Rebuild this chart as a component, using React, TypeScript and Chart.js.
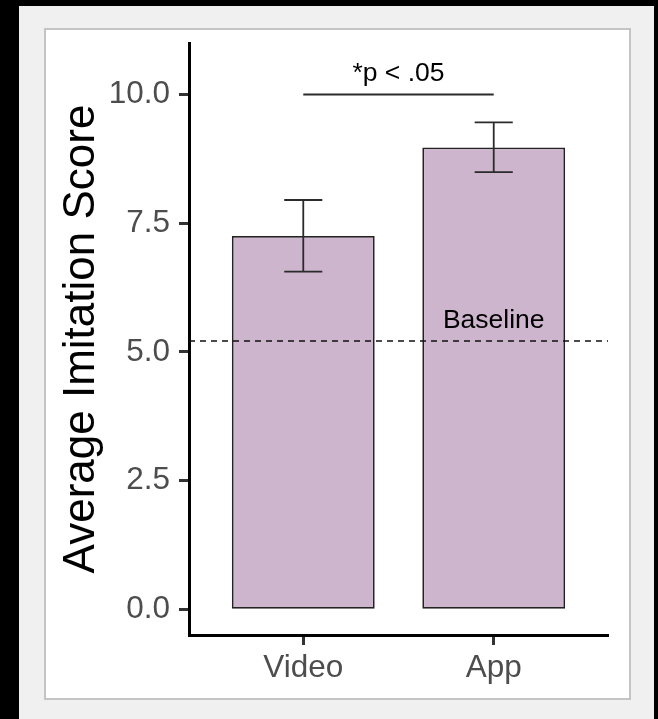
import React, { useEffect, useRef } from "react";
import { Chart, registerables } from "chart.js";

Chart.register(...registerables);

const categories = ["Video", "App"];
const categoryPositions = [1, 2];
const means = [7.25, 8.97];
const errLow = [6.56, 8.49];
const errHigh = [7.95, 9.46];
const yTickValues = [0, 2.5, 5, 7.5, 10];
const baselineValue = 5.21;
const baselineLabel = "Baseline";
const baselineLabelY = 5.6;
const sigLabel = "*p < .05";
const sigLineY = 10.0;
const sigLabelY = 10.4;
const yAxisTitle = "Average Imitation Score";

const FONT = '"Liberation Sans", Arial, Helvetica, sans-serif';

const annotationsPlugin = {
  id: "annotations",
  afterDatasetsDraw(chart: any) {
    const { ctx, chartArea, scales } = chart;
    const xs = scales.x;
    const ys = scales.y;
    ctx.save();
    // error bars
    ctx.strokeStyle = "#2b2b2b";
    ctx.lineWidth = 1.8;
    categoryPositions.forEach((pos, i) => {
      const x = xs.getPixelForValue(pos);
      const half = xs.getPixelForValue(pos + 0.1) - x;
      const yH = ys.getPixelForValue(errHigh[i]);
      const yL = ys.getPixelForValue(errLow[i]);
      ctx.beginPath();
      ctx.moveTo(x, yH);
      ctx.lineTo(x, yL);
      ctx.moveTo(x - half, yH);
      ctx.lineTo(x + half, yH);
      ctx.moveTo(x - half, yL);
      ctx.lineTo(x + half, yL);
      ctx.stroke();
    });
    // baseline dashed line
    const yb = ys.getPixelForValue(baselineValue);
    ctx.strokeStyle = "#111111";
    ctx.lineWidth = 1.5;
    ctx.setLineDash([6, 5]);
    ctx.beginPath();
    ctx.moveTo(chartArea.left, yb);
    ctx.lineTo(chartArea.right, yb);
    ctx.stroke();
    ctx.setLineDash([]);
    // baseline label
    ctx.fillStyle = "#000000";
    ctx.font = `26.5px ${FONT}`;
    ctx.textAlign = "center";
    ctx.textBaseline = "middle";
    ctx.fillText(baselineLabel, xs.getPixelForValue(categoryPositions[1]), ys.getPixelForValue(baselineLabelY));
    // significance bracket
    const ySig = ys.getPixelForValue(sigLineY);
    ctx.strokeStyle = "#2b2b2b";
    ctx.lineWidth = 1.8;
    ctx.beginPath();
    ctx.moveTo(xs.getPixelForValue(categoryPositions[0]), ySig);
    ctx.lineTo(xs.getPixelForValue(categoryPositions[1]), ySig);
    ctx.stroke();
    ctx.fillText(
      sigLabel,
      xs.getPixelForValue((categoryPositions[0] + categoryPositions[1]) / 2),
      ys.getPixelForValue(sigLabelY)
    );
    ctx.restore();
  },
};

export default function App() {
  const canvasRef = useRef<HTMLCanvasElement | null>(null);

  useEffect(() => {
    if (!canvasRef.current) return;
    const chart = new Chart(canvasRef.current, {
      type: "bar",
      data: {
        datasets: [
          {
            data: categoryPositions.map((x, i) => ({ x, y: means[i] })),
            backgroundColor: "#CDB5CD",
            borderColor: "#222222",
            borderWidth: 1.8,
            borderSkipped: false,
            categoryPercentage: 1,
            barPercentage: 0.75,
          } as any,
        ],
      },
      options: {
        animation: false,
        responsive: false,
        devicePixelRatio: 1,
        layout: { padding: { left: 0, top: 43, right: 50, bottom: 24 } },
        plugins: { legend: { display: false }, tooltip: { enabled: false } },
        scales: {
          x: {
            type: "linear",
            min: 0.4,
            max: 2.6,
            offset: false,
            afterBuildTicks: (s: any) => {
              s.ticks = categoryPositions.map((v) => ({ value: v }));
            },
            afterFit: (s: any) => {
              s.height = 60;
            },
            ticks: {
              callback: (v: any) => categories[categoryPositions.indexOf(Number(v))] ?? "",
              color: "#4D4D4D",
              font: { family: FONT, size: 31.5 },
              padding: 4,
              maxRotation: 0,
            },
            grid: {
              offset: false,
              drawOnChartArea: false,
              drawTicks: true,
              tickLength: 10,
              tickWidth: 3,
              tickColor: "#333333",
            },
            border: { display: true, color: "#000000", width: 3 },
          },
          y: {
            type: "linear",
            min: -0.5,
            max: 11,
            afterBuildTicks: (s: any) => {
              s.ticks = yTickValues.map((v) => ({ value: v }));
            },
            afterFit: (s: any) => {
              s.width = 189;
            },
            ticks: {
              callback: (v: any) => Number(v).toFixed(1),
              color: "#4D4D4D",
              font: { family: FONT, size: 31.5 },
              padding: 9,
            },
            grid: {
              drawOnChartArea: false,
              drawTicks: true,
              tickLength: 10,
              tickWidth: 3,
              tickColor: "#333333",
            },
            border: { display: true, color: "#000000", width: 3 },
            title: {
              display: true,
              text: yAxisTitle,
              color: "#000000",
              font: { family: FONT, size: 44 },
              padding: { top: 55, bottom: 0 },
            },
          },
        },
      },
      plugins: [annotationsPlugin],
    });
    return () => chart.destroy();
  }, []);

  return (
    <div
      style={{
        position: "fixed",
        left: 0,
        top: 0,
        width: 658,
        height: 719,
        background: "#000000",
        overflow: "hidden",
      }}
    >
      <div
        style={{
          position: "absolute",
          left: 19,
          top: 6,
          width: 635,
          height: 713,
          background: "#F0F0F0",
        }}
      />
      <div
        style={{
          position: "absolute",
          left: 44,
          top: 28,
          width: 583,
          height: 668,
          background: "#FFFFFF",
          border: "2px solid #C4C4C4",
        }}
      />
      <canvas
        ref={canvasRef}
        width={658}
        height={719}
        style={{ position: "absolute", left: 0, top: 0, width: 658, height: 719 }}
      />
    </div>
  );
}
